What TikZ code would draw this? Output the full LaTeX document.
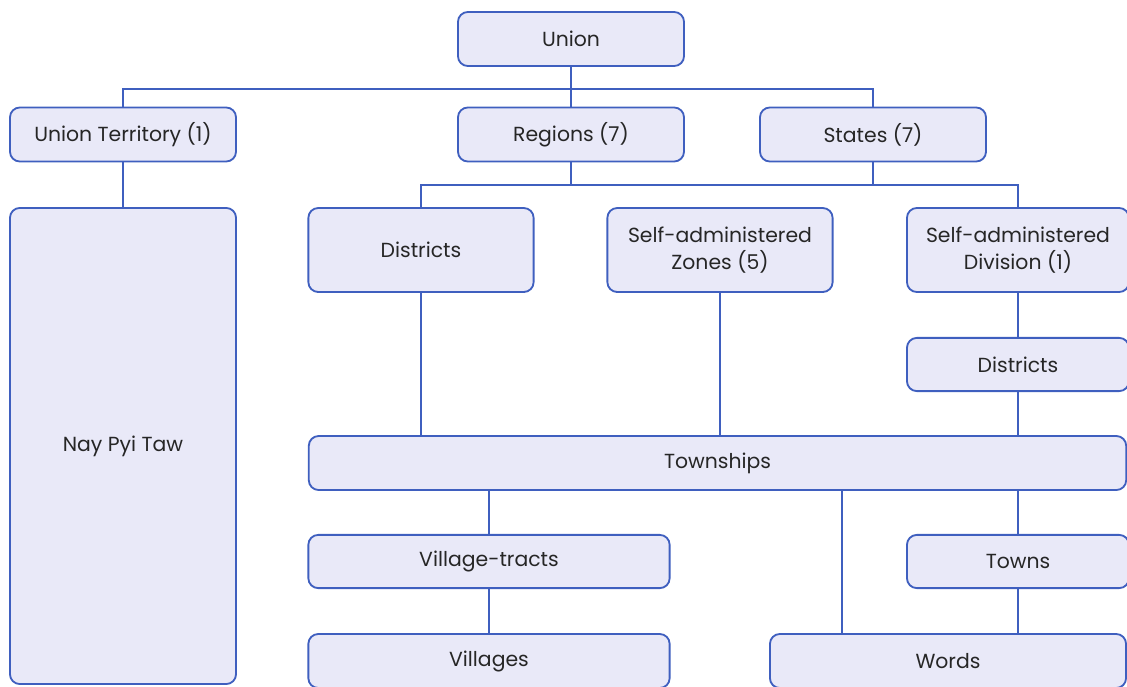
\documentclass[tikz,border=0pt]{standalone}
\usepackage{fontspec}
\setmainfont{Poppins}
\usepackage{tikz}
\usetikzlibrary{calc}
\usepackage{xcolor}
\definecolor{myblue}{HTML}{3F5FBF}
\definecolor{myfill}{HTML}{E9E9F8}
\definecolor{mytext}{HTML}{262626}
\tikzstyle{box}=[draw=myblue,fill=myfill,line width=1.3pt,rounded corners=7pt,text=mytext,align=center,font=\fontsize{14.5}{19}\selectfont,inner sep=2pt]
\tikzstyle{link}=[draw=myblue,line width=1.3pt]

\begin{document}
\begin{tikzpicture}[x=0.025cm,y=-0.025cm]
\clip (0,0) rectangle (1127,686);

\node[box,minimum width=5.65cm,minimum height=1.35cm] (union) at (571,39) {Union};

\node[box,minimum width=5.65cm,minimum height=1.35cm] (ut) at (123,134.5) {Union Territory (1)};
\node[box,minimum width=5.65cm,minimum height=1.35cm] (regions) at (571,134.5) {Regions (7)};
\node[box,minimum width=5.65cm,minimum height=1.35cm] (states) at (873,134.5) {States (7)};

\node[box,minimum width=5.65cm,minimum height=11.9cm] (npt) at (123,446) {Nay Pyi Taw};

\node[box,minimum width=5.63cm,minimum height=2.1cm] (districts) at (421,250) {Districts};
\node[box,minimum width=5.63cm,minimum height=2.1cm] (zones) at (720,250) {Self-administered\\Zones (5)};
\node[box,minimum width=5.55cm,minimum height=2.1cm] (division) at (1018,250) {Self-administered\\Division (1)};
\node[box,minimum width=5.55cm,minimum height=1.33cm] (districtsb) at (1018,364.5) {Districts};

\node[box,minimum width=20.43cm,minimum height=1.35cm] (townships) at (717.5,463) {Townships};

\node[box,minimum width=9.03cm,minimum height=1.33cm] (tracts) at (489,561.5) {Village-tracts};
\node[box,minimum width=5.55cm,minimum height=1.33cm] (towns) at (1018,561.5) {Towns};
\node[box,minimum width=9.03cm,minimum height=1.35cm] (villages) at (489,661) {Villages};
\node[box,minimum width=8.9cm,minimum height=1.35cm] (words) at (948,661) {Words};

\coordinate (bus1) at (571,89);
\coordinate (bus2) at (571,185);
\coordinate (wordsline) at (842,560);

\draw[link] (union.south) -- (regions.north);
\draw[link] (ut.north) -- (ut.north |- bus1) -| (states.north);
\draw[link] (ut.south) -- (npt.north);

\draw[link] (regions.south) -- (bus2);
\draw[link] (states.south) -- (states.south |- bus2);
\draw[link] (districts.north) -- (districts.north |- bus2) -| (division.north);

\draw[link] (districts.south) -- (districts.south |- townships.north);
\draw[link] (zones.south) -- (zones.south |- townships.north);
\draw[link] (division.south) -- (districtsb.north);
\draw[link] (districtsb.south) -- (districtsb.south |- townships.north);

\draw[link] (tracts.north) -- (tracts.north |- townships.south);
\draw[link] (tracts.south) -- (villages.north);
\draw[link] (wordsline |- townships.south) -- (wordsline |- words.north);
\draw[link] (towns.north) -- (towns.north |- townships.south);
\draw[link] (towns.south) -- (towns.south |- words.north);
\end{tikzpicture}
\end{document}
